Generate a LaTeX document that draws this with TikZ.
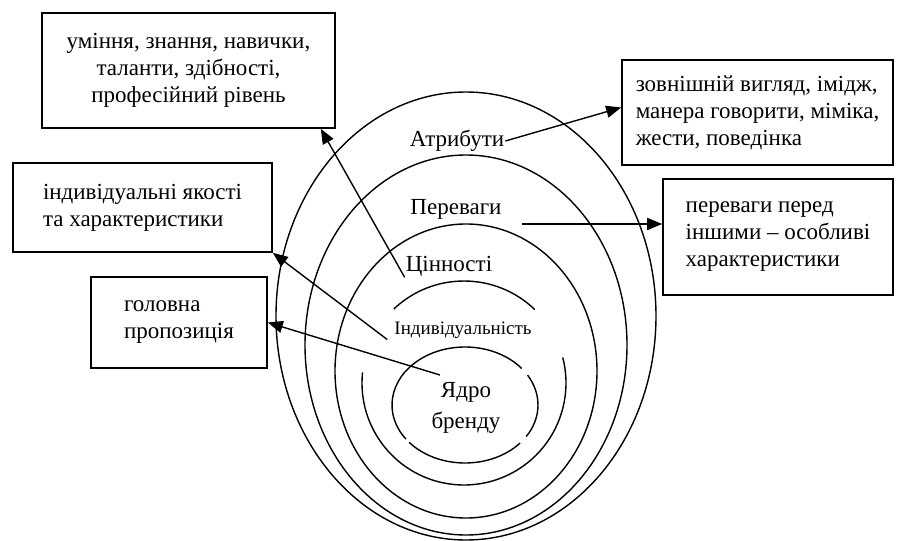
\documentclass[tikz,border=0pt]{standalone}
\usepackage{fontspec}
\setmainfont{Liberation Serif}
\usetikzlibrary{arrows.meta}

\begin{document}
\begin{tikzpicture}[
        x=1pt, y=-1pt, % pixel-like units, y grows downwards
        infobox/.style={draw, line width=1.6pt, align=left, inner sep=0pt, font=\fontsize{23}{27}\selectfont},
        ringtext/.style={inner sep=1pt, font=\fontsize{23}{27}\selectfont},
        ring/.style={line width=1.4pt},
        pointer/.style={draw, line width=1.4pt, -{Triangle[length=15pt,width=12pt]}}
    ]
    \useasboundingbox (0,0) rectangle (906,541);

    % Nested rings
    \draw[ring] (466,316) ellipse [x radius=190, y radius=224];
    \draw[ring] (466,345) ellipse [x radius=161, y radius=190];
    \draw[ring] (466,371) ellipse [x radius=131, y radius=147];
    % Broken ring round the individuality label
    \draw[ring] (464,383) ++(-46:102) arc[start angle=-46, end angle=-133.5, radius=102];
    \draw[ring] (464,383) ++(-174:102) arc[start angle=-174, end angle=-374.5, radius=102];
    % Core ellipse, drawn in three pieces
    \draw[ring] (465,405) ++(-39:73 and 58) arc[start angle=-39, end angle=-216, x radius=73, y radius=58];
    \draw[ring] (465,405) ++(-220:73 and 58) arc[start angle=-220, end angle=-319, x radius=73, y radius=58];
    \draw[ring] (465,405) ++(-327:73 and 58) arc[start angle=-327, end angle=-391, x radius=73, y radius=58];

    % Ring labels
    \node[ringtext] (attr) at (457,141) {Атрибути};
    \node[ringtext] (perev) at (456,209) {Переваги};
    \node[ringtext] (valu) at (449,266) {Цінності};
    \node[ringtext, font=\fontsize{19}{23}\selectfont] (indiv) at (463,330) {Індивідуальність};
    \node[ringtext, align=center, font=\fontsize{23}{31}\selectfont] (core) at (466,408) {Ядро\\бренду};

    % Boxes
    \node[infobox, align=center, minimum width=293, minimum height=115] (skills) at (188.5,70.5)
        {уміння, знання, навички,\\таланти, здібності,\\професійний рівень};
    \node[infobox, minimum width=271, minimum height=105] (look) at (757.5,112.5)
        {зовнішній вигляд, імідж,\\манера говорити, міміка,\\жести, поведінка};
    \node[infobox, minimum width=230, minimum height=116] (adv) at (778,237)
        {переваги перед\\іншими – особливі\\характеристики};
    \node[infobox, minimum width=259, minimum height=89] (traits) at (142.5,207.5)
        {індивідуальні якості\\та характеристики};
    \node[infobox, minimum width=176, minimum height=91] (offer) at (179,322.5)
        {головна\\пропозиція};

    % Arrows
    \coordinate (perevtail) at (522,224);
    \coordinate (coretail) at (440,375);
    \draw[pointer] (attr.east) -- ([yshift=5pt]look.west);
    \draw[pointer] (perevtail) -- (perevtail -| adv.west);
    \draw[pointer] (valu.south west) -- ([xshift=-15pt]skills.south east);
    \draw[pointer] ([xshift=-6pt]indiv.south west) -- (traits.south east);
    \draw[pointer] (coretail) -- (offer.east);
\end{tikzpicture}
\end{document}
